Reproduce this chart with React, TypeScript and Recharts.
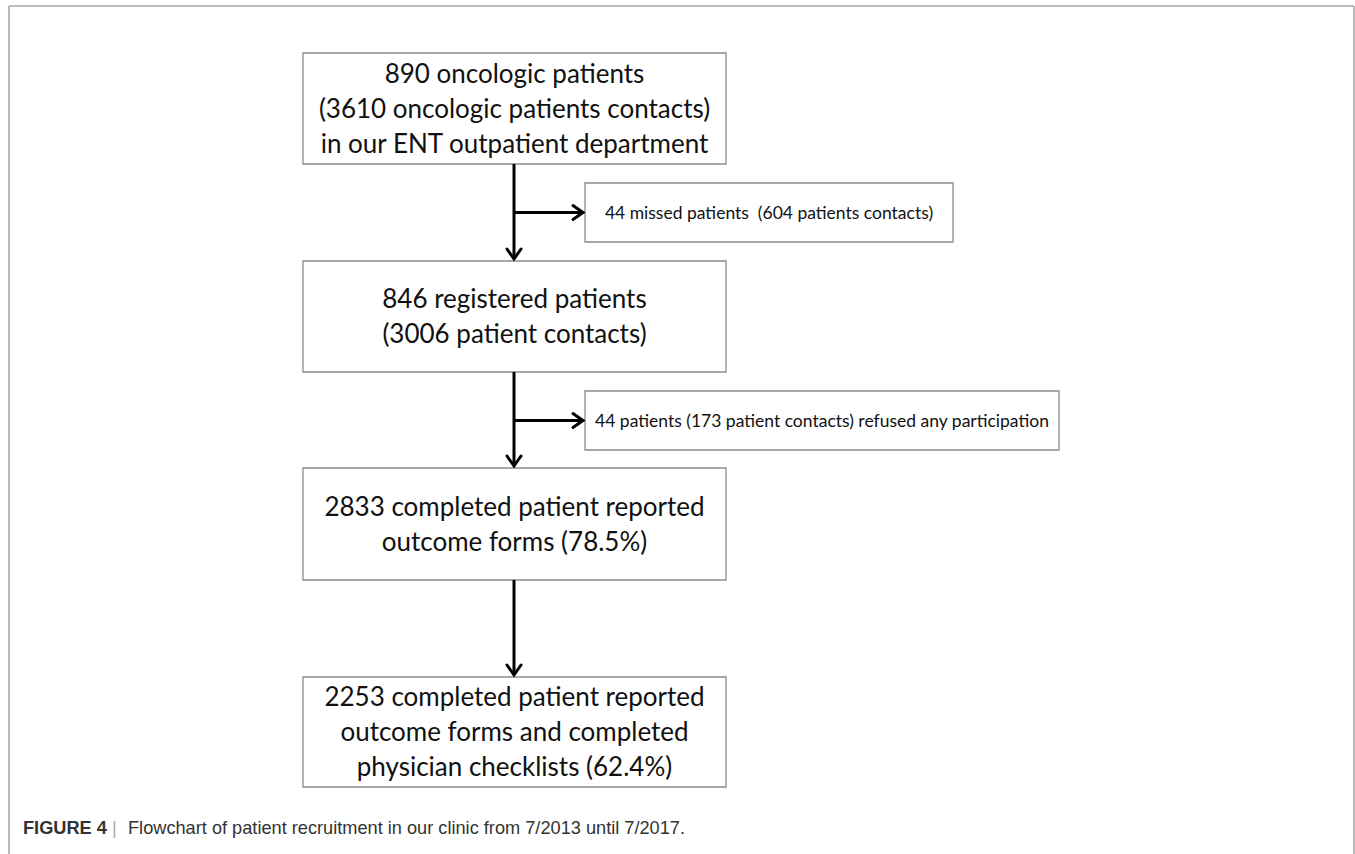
import React from "react";
import { ScatterChart, XAxis, YAxis, Scatter, ReferenceArea, ReferenceLine } from "recharts";

// ---- content ----
const mainSteps: string[][] = [
  ["890 oncologic patients", "(3610 oncologic patients contacts)", "in our ENT outpatient department"],
  ["846 registered patients", "(3006 patient contacts)"],
  ["2833 completed patient reported", "outcome forms (78.5%)"],
  ["2253 completed patient reported", "outcome forms and completed", "physician checklists (62.4%)"],
];
const exclusions: string[] = [
  "44 missed patients  (604 patients contacts)",
  "44 patients (173 patient contacts) refused any participation",
];
const captionLabel = "FIGURE 4";
const captionText = "Flowchart of patient recruitment in our clinic from 7/2013 until 7/2017.";

// ---- layout in the chart's domain units ----
const W = 1355;
const H = 854;
const mainTop = [53, 261, 468, 677];
const mainBottom = [164, 372, 580, 787];
const mainLeft = 303;
const mainRight = 726;
const flowX = 514;
const exclTop = [183, 391];
const exclBottom = [242, 450];
const exclLeft = 585;
const exclRight = [953, 1059];

const shafts = [
  { x1: flowX, y1: mainBottom[0], x2: flowX, y2: mainTop[1] - 2 },
  { x1: flowX, y1: mainBottom[1], x2: flowX, y2: mainTop[2] - 2 },
  { x1: flowX, y1: mainBottom[2], x2: flowX, y2: mainTop[3] - 2 },
  { x1: flowX, y1: (exclTop[0] + exclBottom[0]) / 2, x2: exclLeft - 2, y2: (exclTop[0] + exclBottom[0]) / 2 },
  { x1: flowX, y1: (exclTop[1] + exclBottom[1]) / 2, x2: exclLeft - 2, y2: (exclTop[1] + exclBottom[1]) / 2 },
];
const arrowTips = shafts.map((s) => ({ x: s.x2, y: s.y2, dir: s.x1 === s.x2 ? "down" : "right" }));

const frame = [
  { x1: 9, y1: H, x2: 9, y2: 6 },
  { x1: 9, y1: 6, x2: 1354, y2: 6 },
  { x1: 1354, y1: 6, x2: 1354, y2: H },
];

const FONT = "Lato, 'Open Sans', sans-serif";

function MultiLine(props: any) {
  const { viewBox, lines, fontSize, lineHeight } = props;
  const { x, y, width, height } = viewBox;
  const cx = x + width / 2;
  const cy = y + height / 2;
  const capH = fontSize * 0.72;
  const first = cy - ((lines.length - 1) * lineHeight) / 2 + capH / 2;
  return (
    <text textAnchor="middle" fontFamily={FONT} fontSize={fontSize} fill="#111" style={{ whiteSpace: "pre" }}>
      {lines.map((l: string, i: number) => (
        <tspan key={i} x={cx} y={first + i * lineHeight}>
          {l}
        </tspan>
      ))}
    </text>
  );
}

function ArrowHead(props: any) {
  const { cx, cy, payload } = props;
  if (cx == null || cy == null) return null;
  const a = 7;
  const b = 10;
  const d =
    payload.dir === "down"
      ? `M${cx - a},${cy - b} L${cx},${cy} L${cx + a},${cy - b}`
      : `M${cx - b},${cy - a} L${cx},${cy} L${cx - b},${cy + a}`;
  return <path d={d} fill="none" stroke="#000" strokeWidth={3} strokeLinecap="round" strokeLinejoin="miter" />;
}

export default function App() {
  return (
    <div style={{ position: "absolute", left: 0, top: 0, width: W, height: H, background: "#fff" }}>
      <ScatterChart width={W} height={H} margin={{ top: 0, right: 0, bottom: 0, left: 0 }}>
        <XAxis type="number" dataKey="x" domain={[0, W]} scale="linear" hide allowDataOverflow />
        <YAxis type="number" dataKey="y" domain={[0, H]} scale="linear" reversed hide allowDataOverflow />
        {frame.map((s, i) => (
          <ReferenceLine
            key={"f" + i}
            segment={[{ x: s.x1, y: s.y1 }, { x: s.x2, y: s.y2 }]}
            stroke="#a6a6a6"
            strokeWidth={1.6}
            ifOverflow="visible"
          />
        ))}
        {shafts.map((s, i) => (
          <ReferenceLine
            key={"s" + i}
            segment={[{ x: s.x1, y: s.y1 }, { x: s.x2, y: s.y2 }]}
            stroke="#000"
            strokeWidth={3}
            ifOverflow="visible"
          />
        ))}
        {mainSteps.map((lines, i) => (
          <ReferenceArea
            key={"m" + i}
            x1={mainLeft}
            x2={mainRight}
            y1={mainTop[i]}
            y2={mainBottom[i]}
            fill="#fff"
            fillOpacity={1}
            stroke="#8c8c8c"
            strokeWidth={1.3}
            ifOverflow="visible"
            label={(p: any) => <MultiLine viewBox={p.viewBox} lines={lines} fontSize={26} lineHeight={35} />}
          />
        ))}
        {exclusions.map((t, i) => (
          <ReferenceArea
            key={"e" + i}
            x1={exclLeft}
            x2={exclRight[i]}
            y1={exclTop[i]}
            y2={exclBottom[i]}
            fill="#fff"
            fillOpacity={1}
            stroke="#8c8c8c"
            strokeWidth={1.3}
            ifOverflow="visible"
            label={(p: any) => <MultiLine viewBox={p.viewBox} lines={[t]} fontSize={17.5} lineHeight={20} />}
          />
        ))}
        <Scatter data={arrowTips} shape={<ArrowHead />} isAnimationActive={false} />
      </ScatterChart>
      <svg width={W} height={H} style={{ position: "absolute", left: 0, top: 0, pointerEvents: "none" }}>
        <text y={834} fontFamily="'Liberation Sans', Arial, sans-serif" fontSize={18.2} fill="#333">
          <tspan x={23} fontWeight="bold">{captionLabel}</tspan>
          <tspan x={112} fill="#aaa">|</tspan>
          <tspan x={128}>{captionText}</tspan>
        </text>
      </svg>
    </div>
  );
}
